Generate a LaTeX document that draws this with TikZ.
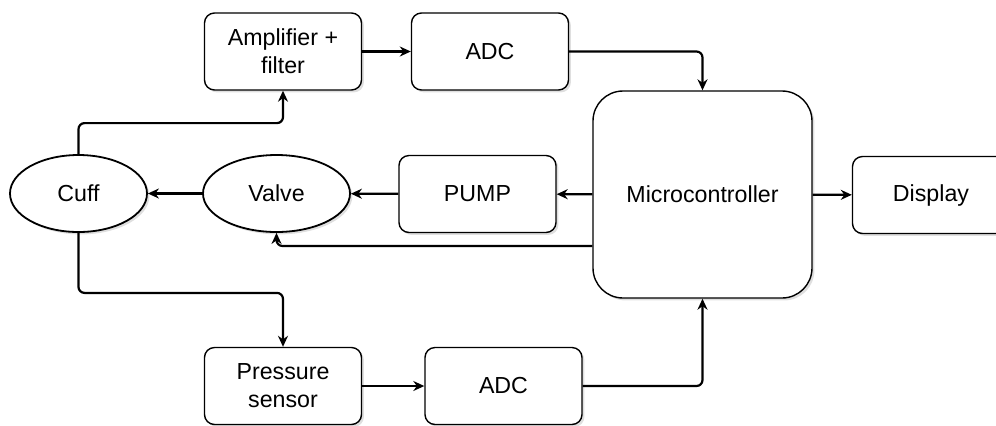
\documentclass[tikz,border=0pt]{standalone}
\usepackage{fontspec}
\setmainfont{Liberation Sans}
\usetikzlibrary{shapes.geometric,arrows.meta,shadows}
\tikzstyle{block}=[draw, rounded corners=5pt, fill=white, line width=0.7pt, align=center,
  minimum width=78.5pt, minimum height=38.5pt, inner sep=0pt,
  drop shadow={shadow xshift=1.2pt, shadow yshift=-1.2pt, opacity=0.25, fill=gray}]
\tikzstyle{round block}=[draw, ellipse, fill=white, line width=0.9pt, inner sep=0pt,
  minimum height=38.5pt,
  drop shadow={shadow xshift=1.2pt, shadow yshift=-1.2pt, opacity=0.25, fill=gray}]
\tikzstyle{conn}=[draw, line width=1.1pt, rounded corners=3pt, -{Stealth[length=5.5pt,width=5pt]}]

\begin{document}
\begin{tikzpicture}[x=0.5pt, y=-0.5pt, font=\fontsize{11.6}{14}\selectfont]
  \clip (0,0) rectangle (996,425);

  % The blocks of the top and bottom row
  \node[block] (amp) at (283,51.5) {Amplifier +\\filter};
  \node[block] (adcA) at (490,51.5) {ADC};
  \node[block] (sens) at (283,386) {Pressure\\sensor};
  \node[block] (adcB) at (503.5,386) {ADC};

  % The middle row
  \node[block, rounded corners=15pt, minimum width=109.5pt, minimum height=103.5pt] (mcu) at (702.5,194.5) {Microcontroller};
  \node[block] (pump) at (477.5,194) {PUMP};
  \node[block] (disp) at (931,195) {Display};
  \node[round block, minimum width=73.5pt] (valve) at (276.5,193.5) {Valve};
  \node[round block, minimum width=68.5pt] (cuff) at (78.5,193.5) {Cuff};

  % Straight connections
  \foreach \source/\sink in {amp/adcA, mcu/pump, pump/valve, valve/cuff, sens/adcB, mcu/disp}
    \path[conn] (\source) -- (\sink);

  % Connections with bends
  \path[conn] (cuff.north) -- ++(0,-31) -| (amp.south);
  \path[conn] (cuff.south) -- ++(0,60) -| (sens.north);
  \path[conn] (adcA.east) -| (mcu.north);
  \path[conn] (adcB.east) -| (mcu.south);
  \path[conn] ([yshift=-25.75pt]mcu.west) -| (valve.south);

\end{tikzpicture}
\end{document}
